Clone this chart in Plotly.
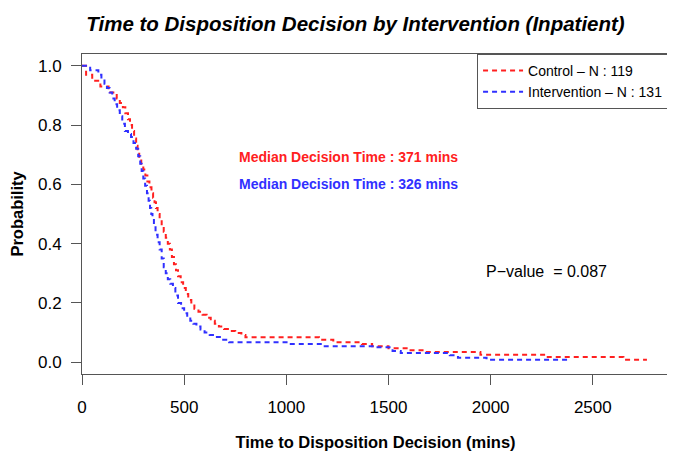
import plotly.graph_objects as go

# Kaplan-Meier step points (minutes, probability)
control_time = [0, 20, 50, 90, 130, 170, 185, 200, 212, 225, 235, 245, 255, 265, 272, 280,
                290, 300, 310, 320, 330, 340, 348, 355, 362, 370, 380, 390, 400, 410, 420,
                430, 440, 450, 460, 470, 483, 495, 508, 520, 535, 550, 570, 590, 610, 630,
                650, 670, 695, 720, 750, 780, 800, 1160, 1230, 1370, 1420, 1500, 1600, 1680,
                1950, 2270, 2650, 2765]
control_surv = [1.0, 0.97, 0.95, 0.93, 0.91, 0.89, 0.875, 0.86, 0.84, 0.82, 0.80, 0.78,
                0.755, 0.73, 0.71, 0.69, 0.67, 0.65, 0.63, 0.61, 0.59, 0.57, 0.555, 0.54,
                0.52, 0.50, 0.48, 0.46, 0.44, 0.42, 0.40, 0.38, 0.355, 0.33, 0.31, 0.29,
                0.27, 0.25, 0.23, 0.21, 0.195, 0.18, 0.17, 0.16, 0.15, 0.14, 0.13, 0.12,
                0.112, 0.105, 0.098, 0.092, 0.084, 0.076, 0.067, 0.061, 0.054, 0.047, 0.040,
                0.034, 0.025, 0.017, 0.008, 0.008]

interv_time = [0, 40, 80, 95, 110, 122, 135, 148, 160, 172, 185, 197, 210, 225, 240, 252,
               265, 275, 285, 292, 300, 309, 318, 326, 333, 339, 345, 352, 360, 370, 380,
               390, 400, 410, 420, 432, 445, 457, 470, 485, 500, 515, 530, 545, 560, 580,
               600, 625, 650, 685, 720, 1010, 1180, 1440, 1520, 1560, 1800, 1840, 1980, 2390]
interv_surv = [1.0, 0.985, 0.97, 0.955, 0.94, 0.925, 0.91, 0.89, 0.87, 0.85, 0.83, 0.805,
               0.78, 0.77, 0.76, 0.74, 0.72, 0.695, 0.67, 0.645, 0.62, 0.595, 0.57, 0.545,
               0.52, 0.50, 0.48, 0.455, 0.43, 0.405, 0.38, 0.35, 0.32, 0.30, 0.28, 0.265,
               0.25, 0.225, 0.20, 0.182, 0.165, 0.152, 0.14, 0.13, 0.12, 0.11, 0.10, 0.092,
               0.085, 0.076, 0.067, 0.061, 0.054, 0.050, 0.038, 0.031, 0.023, 0.015, 0.008,
               0.008]

series_names = ["Control \u2013 N : 119", "Intervention \u2013 N : 131"]
median_labels = ["Median Decision Time : 371 mins", "Median Decision Time : 326 mins"]
p_label = "P\u2212value  = 0.087"

font = "Liberation Sans, Arial, sans-serif"
red = "#ff2020"
blue = "#3030ff"

fig = go.Figure()
fig.add_trace(go.Scatter(x=control_time, y=control_surv, mode="lines", line_shape="hv",
                         name=series_names[0], line=dict(color=red, width=2, dash="5px,4px")))
fig.add_trace(go.Scatter(x=interv_time, y=interv_surv, mode="lines", line_shape="hv",
                         name=series_names[1], line=dict(color=blue, width=2, dash="5px,4px")))

fig.add_annotation(x=760, y=0.694, xref="x", yref="y", text="<b>" + median_labels[0] + "</b>",
                   showarrow=False, xanchor="left", font=dict(color=red, size=14))
fig.add_annotation(x=760, y=0.60, xref="x", yref="y", text="<b>" + median_labels[1] + "</b>",
                   showarrow=False, xanchor="left", font=dict(color=blue, size=14))
fig.add_annotation(x=1968, y=0.306, xref="x", yref="y", text=p_label,
                   showarrow=False, xanchor="left", font=dict(color="black", size=16))

# the page body adds an 8px margin, so the figure is a little smaller than the window
fig.update_layout(
    width=667, height=454,
    margin=dict(l=74, r=6, t=46, b=88, autoexpand=False),
    paper_bgcolor="white", plot_bgcolor="white",
    font=dict(family=font, color="black", size=14),
    title=dict(text="<b><i>Time to Disposition Decision by Intervention (Inpatient)</i></b>",
               x=0.521, xanchor="center", y=0.966, yanchor="middle", font=dict(size=20.5)),
    legend=dict(x=0.673, y=1, xanchor="left", yanchor="top", bordercolor="#555", borderwidth=1,
                bgcolor="white", font=dict(size=14), tracegroupgap=0, itemwidth=40),
    showlegend=True,
)
fig.update_xaxes(range=[0, 2873], tickvals=[0, 500, 1000, 1500, 2000, 2500],
                 ticks="outside", ticklen=10, tickcolor="#555", showline=True, mirror=True,
                 linecolor="#555", linewidth=1, showgrid=False, zeroline=False,
                 tickfont=dict(size=17), automargin=False, ticklabelstandoff=8,
                 title=dict(text="<b>Time to Disposition Decision (mins)</b>", font=dict(size=16.5),
                            standoff=20))
fig.update_yaxes(range=[-0.04, 1.04], tickvals=[0, 0.2, 0.4, 0.6, 0.8, 1.0], tickformat=".1f",
                 ticks="outside", ticklen=10, tickcolor="#555", showline=True, mirror=True,
                 linecolor="#555", linewidth=1, showgrid=False, zeroline=False,
                 tickfont=dict(size=17), automargin=False, ticklabelstandoff=6,
                 title=dict(text="<b>Probability</b>", font=dict(size=16.5), standoff=18))

fig.write_html("out.html")
